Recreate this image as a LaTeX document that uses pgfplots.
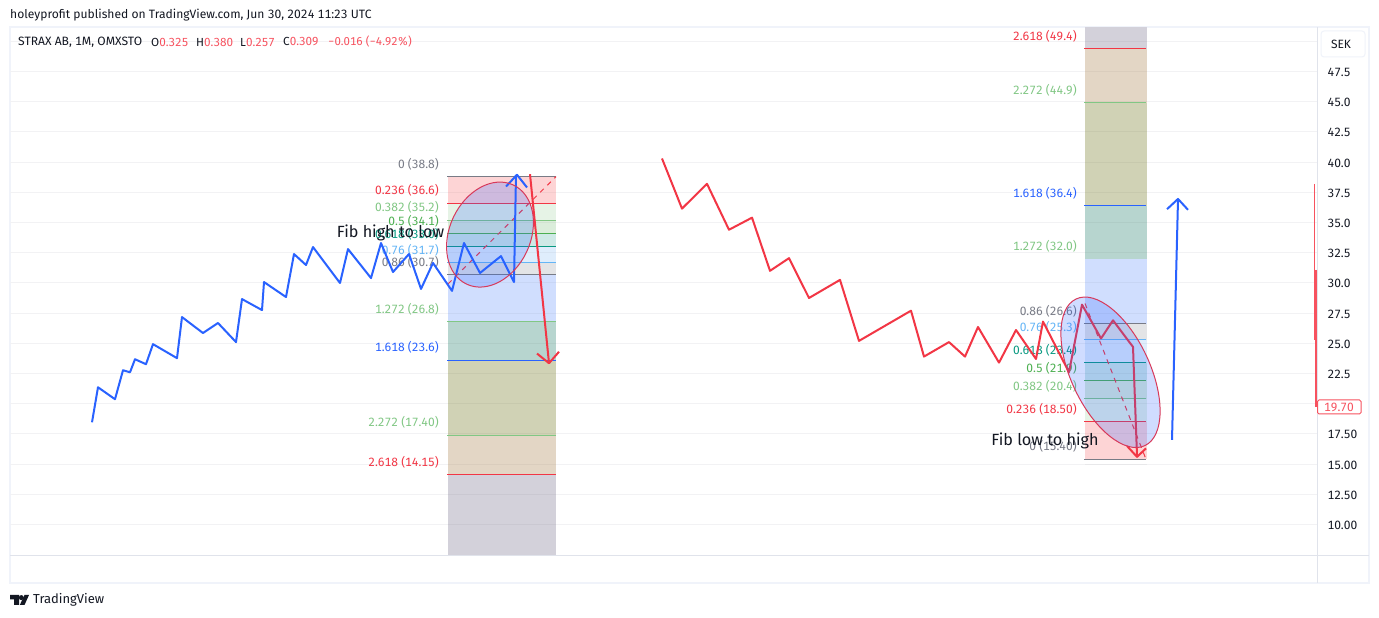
\documentclass[border=0pt]{standalone}
\usepackage{pgfplots}
\usepackage{fontspec}
\setmainfont[Numbers={Lining,Monospaced}]{Fira Sans}
\pgfplotsset{compat=1.18}
\definecolor{tvblue}{HTML}{2962FF}
\definecolor{tvred}{HTML}{F23645}
\definecolor{hdrred}{HTML}{F7525F}
\definecolor{ellred}{HTML}{D8395A}
\definecolor{lgreen}{HTML}{81C784}
\definecolor{mgreen}{HTML}{4CAF50}
\definecolor{teal2}{HTML}{089981}
\definecolor{lblue}{HTML}{64B5F6}
\definecolor{fgrey}{HTML}{787B86}
\definecolor{ink}{HTML}{131722}
\definecolor{gridc}{HTML}{F2F2F4}
\definecolor{framec}{HTML}{F0F3FA}
\definecolor{sepc}{HTML}{E0E3EB}
\definecolor{bred}{HTML}{FDD4D5}
\definecolor{blg}{HTML}{E6F3E6}
\definecolor{bg}{HTML}{DBEDDB}
\definecolor{bt}{HTML}{CEE9E6}
\definecolor{blb}{HTML}{DFEDFC}
\definecolor{bgr}{HTML}{E3E4E6}
\definecolor{bb}{HTML}{D0DEFE}
\definecolor{btt}{HTML}{B7D5CF}
\definecolor{bo}{HTML}{D0D2B5}
\definecolor{btan}{HTML}{E3D6C5}
\definecolor{bdk}{HTML}{D3D1DA}
\newcommand{\band}[5]{\addplot[fill=#5,draw=none,forget plot] coordinates {(#1,#3)(#2,#3)(#2,#4)(#1,#4)} -- cycle;}
\newcommand{\lev}[4]{\addplot[#4,line width=1pt,forget plot] coordinates {(#1,#3)(#2,#3)};}
\begin{document}
\begin{tikzpicture}[x=1pt,y=1pt]
\useasboundingbox (0,0) rectangle (1379,618);
\fill[white] (0,0) rectangle (1379,618);
\draw[framec,line width=2pt] (10,35) rectangle (1369,591);
\begin{axis}[
  at={(10pt,62.5pt)},anchor=south west,
  scale only axis,width=1307pt,height=528.5pt,
  xmin=10,xmax=1317,ymin=7.434,ymax=51.184,
  axis line style={draw=none},
  xtick=\empty,
  ytick={10,12.5,15,17.5,20,22.5,25,27.5,30,32.5,35,37.5,40,42.5,45,47.5,50},
  yticklabels={10.00,12.50,15.00,17.50,,22.5,25.0,27.5,30.0,32.5,35.0,37.5,40.0,42.5,45.0,47.5,},
  yticklabel pos=right,
  major tick length=0pt,
  y tick label style={anchor=west,xshift=7pt,yshift=-0.8pt,font=\fontsize{12}{14}\selectfont,text=ink},
  ymajorgrids,
  grid style={gridc,line width=1pt},
]
% left fib bands
\band{448}{556}{38.8}{36.6}{bred}
\band{448}{556}{36.6}{35.2}{blg}
\band{448}{556}{35.2}{34.1}{bg}
\band{448}{556}{34.1}{33.0}{bt}
\band{448}{556}{33.0}{31.7}{blb}
\band{448}{556}{31.7}{30.7}{bgr}
\band{448}{556}{30.7}{26.8}{bb}
\band{448}{556}{26.8}{23.6}{btt}
\band{448}{556}{23.6}{17.40}{bo}
\band{448}{556}{17.40}{14.15}{btan}
\band{448}{556}{14.15}{7.434}{bdk}
% right fib bands
\band{1085}{1147}{15.40}{18.50}{bred}
\band{1085}{1147}{18.50}{20.4}{blg}
\band{1085}{1147}{20.4}{21.9}{bg}
\band{1085}{1147}{21.9}{23.4}{bt}
\band{1085}{1147}{23.4}{25.3}{blb}
\band{1085}{1147}{25.3}{26.6}{bgr}
\band{1085}{1147}{26.6}{32.0}{bb}
\band{1085}{1147}{32.0}{36.4}{btt}
\band{1085}{1147}{36.4}{44.9}{bo}
\band{1085}{1147}{44.9}{49.4}{btan}
\band{1085}{1147}{49.4}{51.184}{bdk}
% grid showing through the bands
\foreach \g in {10,12.5,15,17.5,20,22.5,25,27.5,30,32.5,35,37.5}{
  \edef\tmp{\noexpand\draw[black,opacity=.04,line width=1pt] (axis cs:448,\g)--(axis cs:556,\g);}\tmp}
\foreach \g in {15,17.5,20,22.5,25,27.5,30,32.5,35,37.5,40,42.5,45,47.5,50}{
  \edef\tmp{\noexpand\draw[black,opacity=.04,line width=1pt] (axis cs:1085,\g)--(axis cs:1147,\g);}\tmp}
% left levels
\lev{447}{556}{38.8}{fgrey}
\lev{447}{556}{36.6}{tvred}
\lev{447}{556}{35.2}{lgreen}
\lev{447}{556}{34.1}{mgreen}
\lev{447}{556}{33.0}{teal2}
\lev{447}{556}{31.7}{lblue}
\lev{447}{556}{30.7}{fgrey}
\lev{447}{556}{26.8}{lgreen}
\lev{447}{556}{23.6}{tvblue}
\lev{447}{556}{17.40}{lgreen}
\lev{447}{556}{14.15}{tvred}
% right levels
\lev{1084}{1146}{15.40}{fgrey}
\lev{1084}{1146}{18.50}{tvred}
\lev{1084}{1146}{20.4}{lgreen}
\lev{1084}{1146}{21.9}{mgreen}
\lev{1084}{1146}{23.4}{teal2}
\lev{1084}{1146}{25.3}{lblue}
\lev{1084}{1146}{26.6}{fgrey}
\lev{1084}{1146}{36.4}{tvblue}
\lev{1084}{1146}{44.9}{lgreen}
\lev{1084}{1146}{49.4}{tvred}
% level labels
\tikzset{lb/.style={anchor=east,yshift=12.5pt,inner sep=0pt,font=\fontsize{12}{14}\selectfont}}
\node[lb,text=fgrey] at (axis cs:439,38.8) {0 (38.8)};
\node[lb,text=tvred] at (axis cs:439,36.6) {0.236 (36.6)};
\node[lb,text=lgreen] at (axis cs:439,35.2) {0.382 (35.2)};
\node[lb,text=mgreen] at (axis cs:439,34.1) {0.5 (34.1)};
\node[lb,text=teal2] at (axis cs:439,33.0) {0.618 (33.0)};
\node[lb,text=lblue] at (axis cs:439,31.7) {0.76 (31.7)};
\node[lb,text=fgrey] at (axis cs:439,30.7) {0.86 (30.7)};
\node[lb,text=lgreen] at (axis cs:439,26.8) {1.272 (26.8)};
\node[lb,text=tvblue] at (axis cs:439,23.6) {1.618 (23.6)};
\node[lb,text=lgreen] at (axis cs:439,17.40) {2.272 (17.40)};
\node[lb,text=tvred] at (axis cs:439,14.15) {2.618 (14.15)};
\node[lb,text=fgrey] at (axis cs:1077,15.40) {0 (15.40)};
\node[lb,text=tvred] at (axis cs:1077,18.50) {0.236 (18.50)};
\node[lb,text=lgreen] at (axis cs:1077,20.4) {0.382 (20.4)};
\node[lb,text=mgreen] at (axis cs:1077,21.9) {0.5 (21.9)};
\node[lb,text=teal2] at (axis cs:1077,23.4) {0.618 (23.4)};
\node[lb,text=lblue] at (axis cs:1077,25.3) {0.76 (25.3)};
\node[lb,text=fgrey] at (axis cs:1077,26.6) {0.86 (26.6)};
\node[lb,text=lgreen] at (axis cs:1077,32.0) {1.272 (32.0)};
\node[lb,text=tvblue] at (axis cs:1077,36.4) {1.618 (36.4)};
\node[lb,text=lgreen] at (axis cs:1077,44.9) {2.272 (44.9)};
\node[lb,text=tvred] at (axis cs:1077,49.4) {2.618 (49.4)};
% dashed fib trend lines
\addplot[tvred,line width=1pt,dash pattern=on 5pt off 5pt,forget plot] coordinates {(448,29.91)(556,38.8)};
\addplot[tvred,line width=1pt,dash pattern=on 5pt off 5pt,forget plot] coordinates {(1085,28.3)(1146,15.40)};
% blue price line (left)
\addplot[tvblue,line width=2pt,line join=round,forget plot] coordinates {
(92,18.46)(98,21.36)(115,20.37)(123,22.77)(130,22.6)(135,23.68)(146,23.27)(153,24.93)
(177,23.77)(182,27.17)(203,25.85)(218,26.68)(236,25.1)(242,28.66)(262,27.75)(264,30.07)
(286,28.83)(294,32.39)(306,31.48)(313,32.97)(340,29.99)(348,32.8)(371,30.4)(381,33.3)
(393,30.9)(409,32.39)(421,29.5)(433,31.65)(452,29.34)(464,33.3)(480,30.82)(501,32.22)
(514,30.07)(516,38.95)};
\addplot[tvblue,line width=2pt,line join=round,forget plot] coordinates {(506,37.98)(517,38.95)(527,37.9)};
% red arrow (left)
\addplot[tvred,line width=2pt,forget plot] coordinates {(530,39.0)(549,23.35)};
\addplot[tvred,line width=2pt,line join=round,forget plot] coordinates {(537,24.15)(549,23.35)(559,24.3)};
% red price line (right)
\addplot[tvred,line width=2pt,line join=round,forget plot] coordinates {
(662,40.3)(682,36.15)(707,38.2)(729,34.4)(752,35.4)(770,31.0)(789,32.05)(809,28.75)
(840,30.25)(859,25.2)(911,27.7)(924,23.9)(949,25.1)(965,23.9)(978,26.35)(999,23.4)
(1016,26.1)(1036,23.7)(1043,26.8)(1069,22.6)(1082,28.2)(1101,25.4)(1113,26.9)(1133,24.7)(1137,15.7)};
\addplot[tvred,line width=2pt,line join=round,forget plot] coordinates {(1127,16.5)(1137,15.6)(1146,16.3)};
% blue arrow (right)
\addplot[tvblue,line width=2pt,forget plot] coordinates {(1172,17.0)(1178,36.9)};
\addplot[tvblue,line width=2pt,line join=round,forget plot] coordinates {(1167,36.1)(1178,36.95)(1188,36.05)};
% ellipses
\draw[ellred,line width=1pt,fill=tvblue,fill opacity=.22] (axis cs:490,34.0) ellipse [x radius=54.8pt,y radius=40.5pt,rotate=64.8];
\draw[ellred,line width=1pt,fill=tvblue,fill opacity=.22] (axis cs:1110.5,22.6) ellipse [x radius=81pt,y radius=39.5pt,rotate=-64.9];
% annotations
\node[anchor=center,text=ink,font=\fontsize{16.2}{18}\selectfont] at (axis cs:390.5,34.1) {Fib high to low};
\node[anchor=center,text=ink,font=\fontsize{16.2}{18}\selectfont] at (axis cs:1045,16.9) {Fib low to high};
% price-scale marks
\addplot[hdrred,line width=1pt,forget plot] coordinates {(1314,38.2)(1314,25.3)};
\addplot[hdrred,line width=1.5pt,forget plot] coordinates {(1316,31.1)(1316,19.7)};
\end{axis}
\draw[sepc,line width=1pt] (10,62.5) -- (1369,62.5);
\draw[sepc,line width=1pt] (1317.5,35) -- (1317.5,591);
% header
\tikzset{hd/.style={anchor=west,inner sep=0pt,font=\fontsize{12.1}{14}\selectfont},
         hv/.style={anchor=west,inner sep=0pt,font=\fontsize{11.7}{14}\selectfont}}
\node[hd,text=ink] at (10,603) {holeyprofit published on TradingView.com, Jun 30, 2024 11:23 UTC};
\node[hd,text=ink] at (18,576) {STRAX AB, 1M, OMXSTO};
\node[hv,text=ink] at (151,576) {O\textcolor{hdrred}{0.325}};
\node[hv,text=ink] at (196,576) {H\textcolor{hdrred}{0.380}};
\node[hv,text=ink] at (240,576) {L\textcolor{hdrred}{0.257}};
\node[hv,text=ink] at (283,576) {C\textcolor{hdrred}{0.309}};
\node[anchor=west,inner sep=0pt,font=\fontsize{11.4}{14}\selectfont,text=hdrred] at (328,576) {−0.016 (−4.92\%)};
% currency button and last-price tag
\draw[framec,line width=1pt,fill=white,rounded corners=3pt] (1321,561) rectangle (1365,587);
\node[text=ink,inner sep=0pt,font=\fontsize{12}{14}\selectfont] at (1341,574) {SEK};
\draw[hdrred,line width=1pt,fill=white,rounded corners=1.5pt] (1317.5,204) rectangle (1361,218);
\node[text=hdrred,inner sep=0pt,font=\fontsize{12}{14}\selectfont] at (1339,211) {19.70};
% footer
\fill[ink] (10,23) -- (19,23) -- (19,13) -- (14,13) -- (14,18.5) -- (10,18.5) -- cycle;
\fill[ink] (21.3,20.4) circle (2.5);
\fill[ink] (24.5,23) -- (29,23) -- (24.5,13) -- (19.8,13) -- cycle;
\node[anchor=west,inner sep=0pt,text=ink,font=\fontsize{13}{15}\selectfont] at (33,18) {TradingView};
\end{tikzpicture}
\end{document}
